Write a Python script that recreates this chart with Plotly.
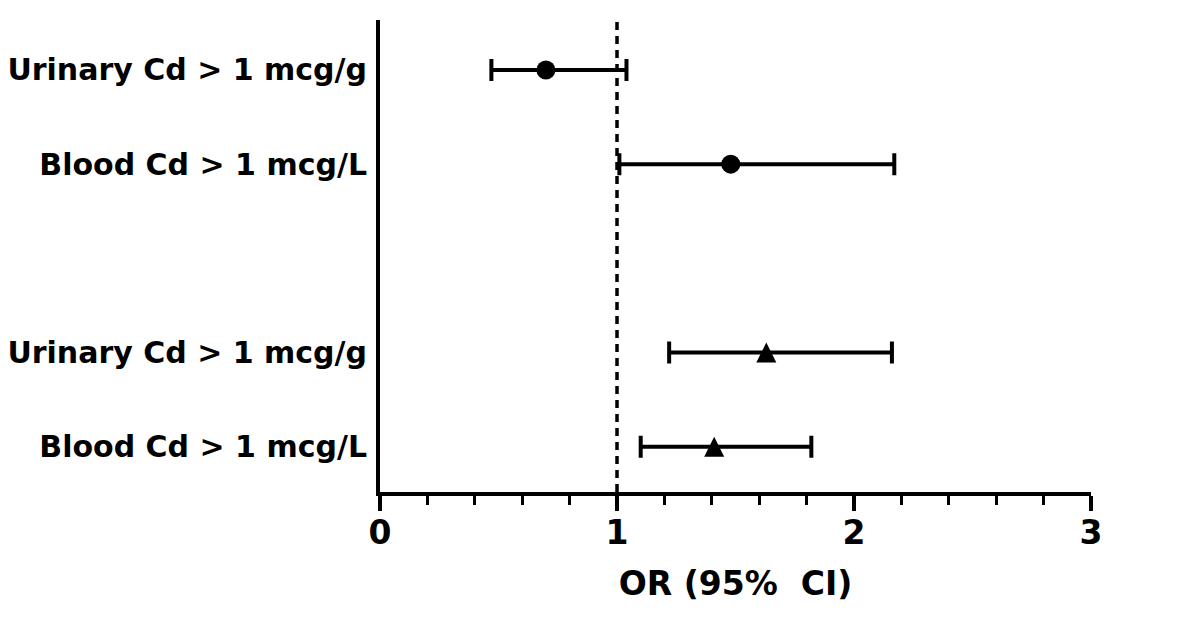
import plotly.graph_objects as go

labels = ["Urinary Cd > 1 mcg/g", "Blood Cd > 1 mcg/L", "Urinary Cd > 1 mcg/g", "Blood Cd > 1 mcg/L"]
positions = [5, 4, 2, 1]
or_vals = [0.70, 1.48, 1.63, 1.41]
ci_low = [0.47, 1.01, 1.22, 1.10]
ci_high = [1.04, 2.17, 2.16, 1.82]
marker_kind = ["circle", "circle", "triangle", "triangle"]

fig = go.Figure()
for i in range(len(labels)):
    if marker_kind[i] == "circle":
        mk = dict(symbol="circle", size=19, color="black")
    else:
        mk = dict(symbol="arrow-down", angle=180, size=20, standoff=10, color="black")
    fig.add_trace(go.Scatter(
        x=[or_vals[i]], y=[positions[i]], mode="markers",
        marker=mk,
        error_x=dict(type="data", symmetric=False,
                     array=[ci_high[i] - or_vals[i]],
                     arrayminus=[or_vals[i] - ci_low[i]],
                     color="black", thickness=4, width=11),
        showlegend=False,
    ))

fig.add_shape(type="line", x0=1, x1=1, y0=0, y1=1, yref="paper", xref="x",
              line=dict(color="black", width=3.5, dash="8px,6px"), layer="below")

font = "DejaVu Sans, sans-serif"
fig.update_layout(
    width=1200, height=638,
    margin=dict(l=372, r=117, t=12, b=154),
    plot_bgcolor="white", paper_bgcolor="white",
    font=dict(family=font, color="black"),
    xaxis=dict(range=[0, 3], tickvals=[0, 1, 2, 3], ticktext=["<b>0</b>", "<b>1</b>", "<b>2</b>", "<b>3</b>"],
               showline=True, linecolor="black", linewidth=4,
               ticks="outside", ticklen=15, tickwidth=4, tickcolor="black",
               minor=dict(dtick=0.2, tick0=0, ticks="outside", ticklen=9, tickwidth=3, tickcolor="black"),
               showgrid=False, zeroline=False, automargin=False,
               tickfont=dict(size=33, family=font), ticklabelstandoff=-7,
               title=dict(text="<b>OR (95%  CI)</b>", font=dict(size=33, family=font), standoff=22)),
    yaxis=dict(range=[0.52, 5.53], tickvals=positions, ticktext=["<b>" + l + "</b>" for l in labels],
               showline=True, linecolor="black", linewidth=4, ticks="", showgrid=False, zeroline=False,
               automargin=False,
               tickfont=dict(size=30, family=font), ticklabelstandoff=3),
)

fig.write_html("out.html")
